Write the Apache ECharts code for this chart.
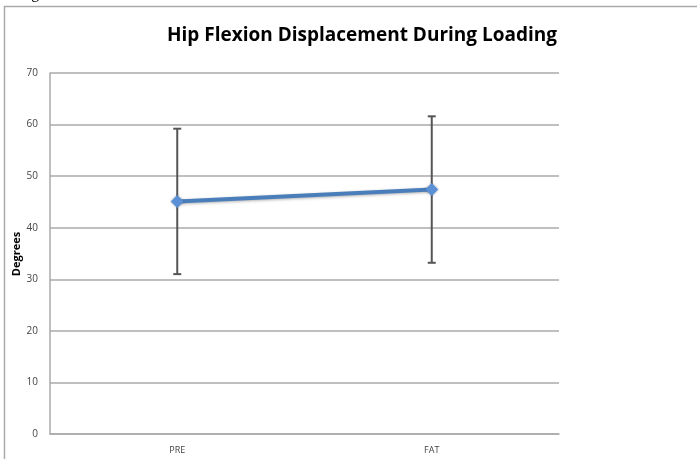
<!DOCTYPE html>
<html><head><meta charset="utf-8">
<script src="https://cdn.jsdelivr.net/npm/echarts@6/dist/echarts.min.js"></script>
<style>html,body{margin:0;padding:0;background:#fff}#c{width:697px;height:459px}</style>
</head><body><div id="c"></div>
<script>
const categories = ['PRE', 'FAT'];
const means = [45.1, 47.4];
const errors = [14.1, 14.2];
const yTicks = [0, 10, 20, 30, 40, 50, 60, 70];

const chart = echarts.init(document.getElementById('c'), null, {renderer: 'canvas'});
const errData = categories.map((c, i) => [i, means[i] - errors[i], means[i] + errors[i]]);
chart.setOption({
  animation: false,
  backgroundColor: '#fff',
  title: {
    text: 'Hip Flexion Displacement During Loading',
    left: 357, textAlign: 'center', top: 21,
    textStyle: {fontFamily: 'Open Sans', fontWeight: 'bold', fontSize: 19, color: '#000'}
  },
  graphic: [
    {type: 'polyline', shape: {points: [[4.5, 459], [4.5, 6.5], [697, 6.5]]}, style: {stroke: '#aaa', lineWidth: 1.5, fill: null}, silent: true},
    {type: 'text', left: 18, top: -14, style: {text: 'Figure', font: '16px "Liberation Serif"', fill: '#000'}},
    {type: 'text', x: 17, y: 254, rotation: Math.PI / 2, style: {text: 'Degrees', font: 'bold 11px "Open Sans"', fill: '#000', align: 'center', verticalAlign: 'middle'}}
  ],
  grid: {left: 50, right: 138, top: 73, bottom: 25},
  xAxis: {
    type: 'category', data: categories, boundaryGap: true,
    axisLine: {lineStyle: {color: '#aaa', width: 1.5}},
    axisTick: {show: false},
    axisLabel: {fontFamily: 'Open Sans', fontSize: 9, color: '#444', margin: 12}
  },
  yAxis: {
    type: 'value', min: yTicks[0], max: yTicks[yTicks.length - 1], interval: 10,
    axisLine: {show: true, lineStyle: {color: '#aaa', width: 1.5}},
    axisTick: {show: false},
    splitLine: {lineStyle: {color: '#aaa', width: 1.5}},
    axisLabel: {fontFamily: 'Open Sans', fontSize: 10, color: '#444', margin: 12}
  },
  series: [
    {
      type: 'custom', data: errData, z: 3,
      renderItem: function (params, api) {
        const x = api.value(0);
        const lo = api.coord([x, api.value(1)]);
        const hi = api.coord([x, api.value(2)]);
        const w = 4;
        const st = {stroke: '#555', lineWidth: 2};
        return {type: 'group', children: [
          {type: 'line', shape: {x1: lo[0], y1: lo[1], x2: hi[0], y2: hi[1]}, style: st},
          {type: 'line', shape: {x1: lo[0] - w, y1: lo[1], x2: lo[0] + w, y2: lo[1]}, style: st},
          {type: 'line', shape: {x1: hi[0] - w, y1: hi[1], x2: hi[0] + w, y2: hi[1]}, style: st}
        ]};
      }
    },
    {
      type: 'line', data: means, z: 5,
      symbol: 'diamond', symbolSize: 13,
      lineStyle: {color: '#4a7ebb', width: 4, shadowColor: 'rgba(0,0,0,0.3)', shadowBlur: 3, shadowOffsetY: 1},
      itemStyle: {color: '#5b8fd6', shadowColor: 'rgba(0,0,0,0.3)', shadowBlur: 3}
    }
  ]
});
</script></body></html>
